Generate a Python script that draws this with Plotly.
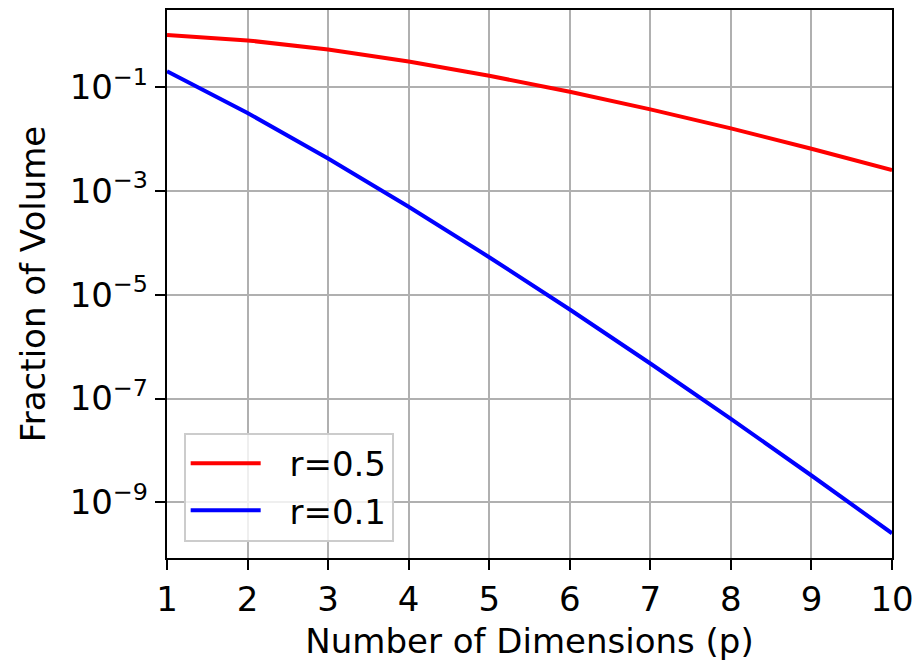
import plotly.graph_objects as go

dims = [1, 2, 3, 4, 5, 6, 7, 8, 9, 10]
frac_r05 = [1.0, 0.785, 0.524, 0.308, 0.164, 0.0807, 0.0369, 0.0159, 0.00644, 0.00249]
frac_r01 = [0.2, 0.0314, 0.00419, 0.000493, 5.26e-5, 5.17e-6, 4.72e-7, 4.06e-8, 3.30e-9, 2.55e-10]
series_names = ["r=0.5", "r=0.1"]
ytick_vals = [1e-1, 1e-3, 1e-5, 1e-7, 1e-9]
ytick_text = ["10<sup>\u22121</sup>", "10<sup>\u22123</sup>", "10<sup>\u22125</sup>",
              "10<sup>\u22127</sup>", "10<sup>\u22129</sup>"]

font = "DejaVu Sans"
FS = 34
pad = "\u2002\u2009"
fig = go.Figure()
fig.add_trace(go.Scatter(x=dims, y=frac_r05, mode="lines", name=pad + series_names[0],
                         line=dict(color="#ff0000", width=4)))
fig.add_trace(go.Scatter(x=dims, y=frac_r01, mode="lines", name=pad + series_names[1],
                         line=dict(color="#0000ff", width=4)))

# page body has an 8px margin: shrink figure so the plot lands where the reference has it
fig.update_layout(
    width=915, height=653,
    margin=dict(l=159, r=31, t=0, b=103),
    paper_bgcolor="white", plot_bgcolor="white",
    font=dict(family=font, size=FS, color="black"),
    showlegend=True,
    legend=dict(x=0.023, y=0.03, xanchor="left", yanchor="bottom",
                bgcolor="rgba(255,255,255,0.8)", bordercolor="#cccccc", borderwidth=2,
                font=dict(size=FS), itemwidth=70, tracegroupgap=0),
)
fig.update_xaxes(range=[1, 10], tickvals=dims, showgrid=True, gridcolor="#b0b0b0", gridwidth=2,
                 showline=True, linecolor="black", linewidth=2.4, mirror=True,
                 ticks="outside", ticklen=10, tickwidth=2.4, tickcolor="black",
                 zeroline=False, tickfont=dict(size=FS),
                 title=dict(text="Number of Dimensions (p)", font=dict(size=FS), standoff=14))
fig.update_yaxes(type="log", range=[-10.07, 0.48], tickvals=ytick_vals, ticktext=ytick_text,
                 showgrid=True, gridcolor="#b0b0b0", gridwidth=2,
                 showline=True, linecolor="black", linewidth=2.4, mirror=True,
                 ticks="outside", ticklen=10, tickwidth=2.4, tickcolor="black",
                 zeroline=False, tickfont=dict(size=FS),
                 title=dict(text="Fraction of Volume", font=dict(size=FS), standoff=14))

fig.write_html("out.html")
